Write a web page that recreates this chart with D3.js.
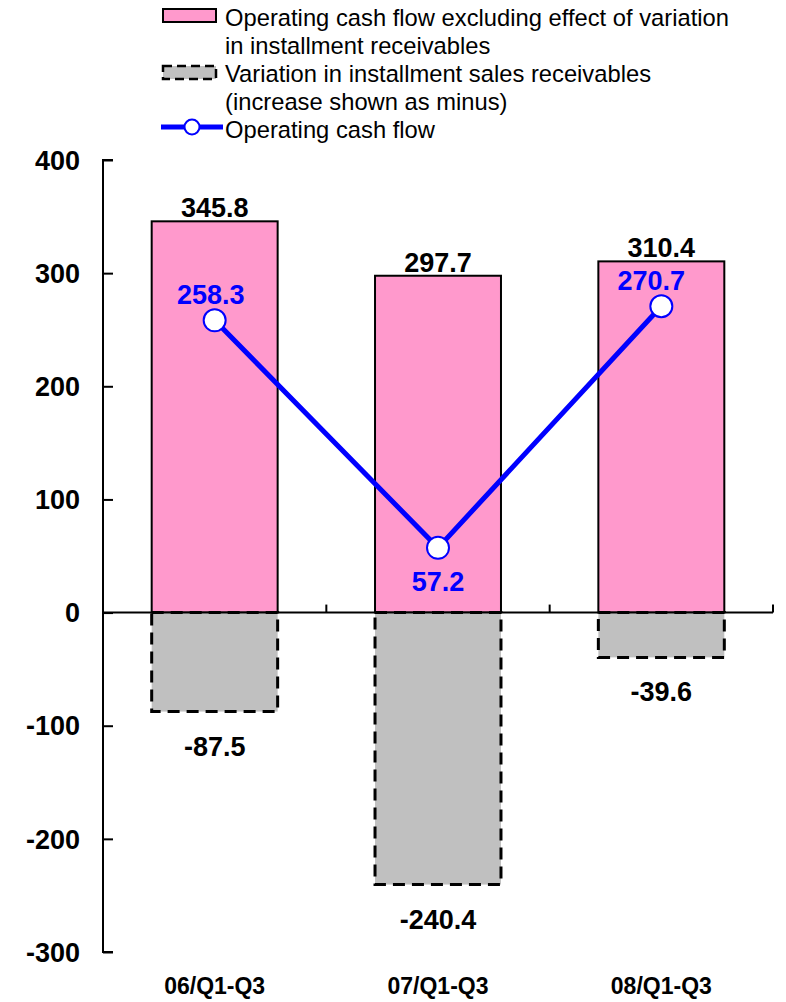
<!DOCTYPE html>
<html>
<head>
<meta charset="utf-8">
<script src="https://cdn.jsdelivr.net/npm/d3@7"></script>
<style>
  html, body { margin: 0; padding: 0; background: #fff; }
  svg { display: block; }
</style>
</head>
<body>
<svg id="chart" width="786" height="1002"></svg>
<script>
// Fiscal periods (first three quarters of each year)
const categories = ["06/Q1-Q3", "07/Q1-Q3", "08/Q1-Q3"];
// Operating cash flow excluding effect of variation in installment receivables
const cashFlowExcl = [345.8, 297.7, 310.4];
// Variation in installment sales receivables (increase shown as minus)
const receivablesVariation = [-87.5, -240.4, -39.6];
// Operating cash flow
const operatingCashFlow = [258.3, 57.2, 270.7];
// Y axis ticks
const yTicks = [400, 300, 200, 100, 0, -100, -200, -300];

const legendItems = [
  ["Operating cash flow excluding effect of variation", "in installment receivables"],
  ["Variation in installment sales receivables", "(increase shown as minus)"],
  ["Operating cash flow"]
];

const svg = d3.select("#chart");
const boldFont = "'Liberation Sans', Arial, sans-serif";
const legendFont = "'Liberation Sans', Arial, sans-serif";

const x = d3.scaleBand()
  .domain(categories)
  .range([103, 773])
  .paddingInner(0.436)
  .paddingOuter(0.218);

const y = d3.scaleLinear()
  .domain([-300, 400])
  .range([952, 160]);

// Positive bars (pink)
svg.append("g").selectAll("rect")
  .data(categories)
  .join("rect")
  .attr("x", d => x(d))
  .attr("width", x.bandwidth())
  .attr("y", (d, i) => y(cashFlowExcl[i]))
  .attr("height", (d, i) => y(0) - y(cashFlowExcl[i]))
  .attr("fill", "#ff99cc")
  .attr("stroke", "#000")
  .attr("stroke-width", 2);

// Negative bars (gray, dashed outline)
svg.append("g").selectAll("rect")
  .data(categories)
  .join("rect")
  .attr("x", d => x(d))
  .attr("width", x.bandwidth())
  .attr("y", y(0))
  .attr("height", (d, i) => y(receivablesVariation[i]) - y(0))
  .attr("fill", "#c0c0c0")
  .attr("stroke", "#000")
  .attr("stroke-width", 3)
  .attr("stroke-dasharray", "12,7");

// Y axis
const yAxis = svg.append("g")
  .attr("transform", "translate(103,0)")
  .call(d3.axisRight(y).tickValues(yTicks).tickSize(10).tickFormat(""));
yAxis.select(".domain").attr("stroke", "#000").attr("stroke-width", 2)
  .attr("d", `M10,${y(400)}H0V${y(-300)}H10`);
yAxis.selectAll(".tick line").attr("stroke", "#000").attr("stroke-width", 2);

svg.append("g").selectAll("text")
  .data(yTicks)
  .join("text")
  .attr("x", 80)
  .attr("y", d => y(d))
  .attr("dy", "0.36em")
  .attr("text-anchor", "end")
  .attr("font-family", boldFont)
  .attr("font-weight", "bold")
  .attr("font-size", 27)
  .text(d => d);

// X axis at zero with small separators between periods
const xAxis = svg.append("g");
xAxis.append("line")
  .attr("x1", 103).attr("x2", 773)
  .attr("y1", y(0)).attr("y2", y(0))
  .attr("stroke", "#000").attr("stroke-width", 2);
xAxis.selectAll("line.sep")
  .data(categories)
  .join("line")
  .attr("class", "sep")
  .attr("x1", d => x(d) + x.step() * (1 - 0.218))
  .attr("x2", d => x(d) + x.step() * (1 - 0.218))
  .attr("y1", y(0)).attr("y2", y(0) - 8)
  .attr("stroke", "#000").attr("stroke-width", 2);

svg.append("g").selectAll("text")
  .data(categories)
  .join("text")
  .attr("x", d => x(d) + x.bandwidth() / 2)
  .attr("y", 994)
  .attr("text-anchor", "middle")
  .attr("font-family", boldFont)
  .attr("font-weight", "bold")
  .attr("font-size", 23)
  .text(d => d);

// Value labels on bars
svg.append("g").selectAll("text")
  .data(categories)
  .join("text")
  .attr("x", d => x(d) + x.bandwidth() / 2)
  .attr("y", (d, i) => y(cashFlowExcl[i]) - 4)
  .attr("text-anchor", "middle")
  .attr("font-family", boldFont)
  .attr("font-weight", "bold")
  .attr("font-size", 27)
  .text((d, i) => cashFlowExcl[i].toFixed(1));

svg.append("g").selectAll("text")
  .data(categories)
  .join("text")
  .attr("x", d => x(d) + x.bandwidth() / 2)
  .attr("y", (d, i) => y(receivablesVariation[i]) + 44)
  .attr("text-anchor", "middle")
  .attr("font-family", boldFont)
  .attr("font-weight", "bold")
  .attr("font-size", 27)
  .text((d, i) => receivablesVariation[i].toFixed(1));

// Operating cash flow line
const cx = d => x(d) + x.bandwidth() / 2;
const line = d3.line()
  .x(d => cx(d))
  .y((d, i) => y(operatingCashFlow[i]));
svg.append("path")
  .datum(categories)
  .attr("d", line)
  .attr("fill", "none")
  .attr("stroke", "#0000ff")
  .attr("stroke-width", 5);

svg.append("g").selectAll("circle")
  .data(categories)
  .join("circle")
  .attr("cx", cx)
  .attr("cy", (d, i) => y(operatingCashFlow[i]))
  .attr("r", 11)
  .attr("fill", "#fff")
  .attr("stroke", "#0000ff")
  .attr("stroke-width", 2);

const lineLabelOffset = [[-4, -16], [0, 43], [-10, -16]];
svg.append("g").selectAll("text")
  .data(categories)
  .join("text")
  .attr("x", (d, i) => cx(d) + lineLabelOffset[i][0])
  .attr("y", (d, i) => y(operatingCashFlow[i]) + lineLabelOffset[i][1])
  .attr("text-anchor", "middle")
  .attr("font-family", boldFont)
  .attr("font-weight", "bold")
  .attr("font-size", 27)
  .attr("fill", "#0000ff")
  .text((d, i) => operatingCashFlow[i].toFixed(1));

// Legend
const legend = svg.append("g");
legend.append("rect")
  .attr("x", 163).attr("y", 9).attr("width", 53).attr("height", 13)
  .attr("fill", "#ff99cc").attr("stroke", "#000").attr("stroke-width", 2);
legend.append("rect")
  .attr("x", 163).attr("y", 66).attr("width", 53).attr("height", 13)
  .attr("fill", "#c0c0c0").attr("stroke", "#000").attr("stroke-width", 2.5)
  .attr("stroke-dasharray", "9,5");
legend.append("line")
  .attr("x1", 161).attr("x2", 223).attr("y1", 127).attr("y2", 127)
  .attr("stroke", "#0000ff").attr("stroke-width", 5);
legend.append("circle")
  .attr("cx", 192).attr("cy", 127).attr("r", 7.5)
  .attr("fill", "#fff").attr("stroke", "#0000ff").attr("stroke-width", 2);

// Condensed legend text: regular face compressed horizontally
const legendBaselines = [[26, 54], [82, 110], [138]];
const legendText = legend.append("g")
  .attr("transform", "translate(225,0) scale(0.97,1)");
legendItems.forEach((lines, k) => {
  lines.forEach((t, j) => {
    legendText.append("text")
      .attr("x", 0)
      .attr("y", legendBaselines[k][j])
      .attr("font-family", legendFont)
      .attr("font-size", 24.5)
      .attr("fill", "#000")
      .text(t);
  });
});
</script>
</body>
</html>
